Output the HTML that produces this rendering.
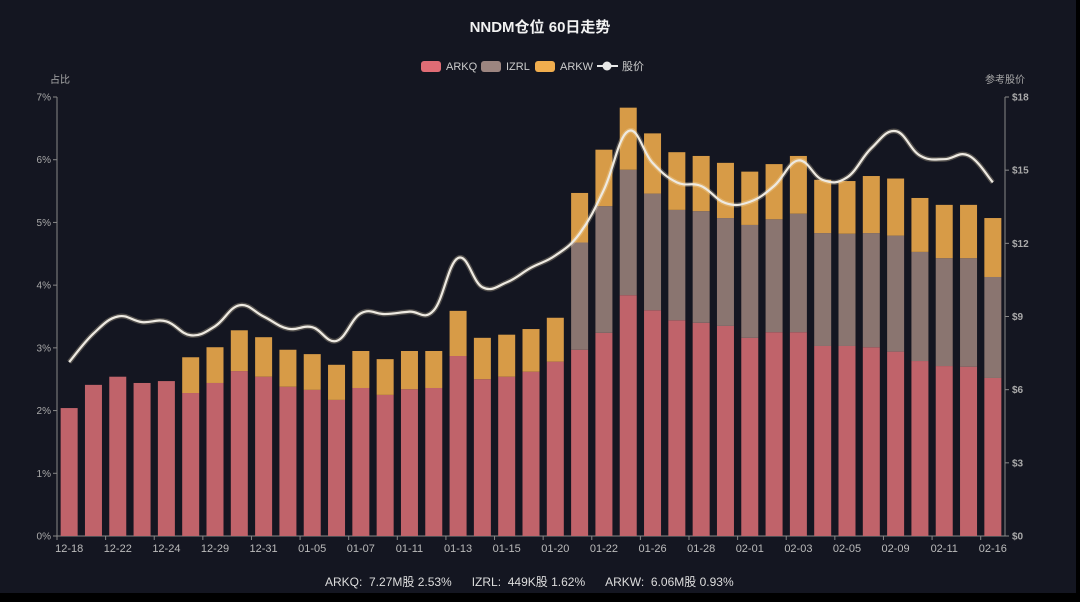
<!DOCTYPE html>
<html><head><meta charset="utf-8">
<style>
html,body{margin:0;padding:0;background:#000;}
#wrap{position:relative;width:1080px;height:602px;overflow:hidden;background:#000;}
svg{position:absolute;left:0;top:0;}
text{font-family:"Liberation Sans","Noto Sans CJK SC",sans-serif;}
</style></head>
<body>
<div id="wrap">
<svg id="chart" width="1080" height="602">
  <rect x="0" y="0" width="1076" height="593" fill="#141621"/>
  <text x="540" y="32" text-anchor="middle" fill="#f2f2f2" font-size="15" font-weight="bold">NNDM仓位 60日走势</text>
  <g>
    <g><rect x="421" y="61" width="20" height="11" rx="3" fill="#e06c75"/><text x="446" y="70" fill="#ccc" font-size="11">ARKQ</text></g>
    <g><rect x="481" y="61" width="20" height="11" rx="3" fill="#9c8580"/><text x="506" y="70" fill="#ccc" font-size="11">IZRL</text></g>
    <g><rect x="535" y="61" width="20" height="11" rx="3" fill="#f0ad4e"/><text x="560" y="70" fill="#ccc" font-size="11">ARKW</text></g>
    <g><line x1="597" y1="66" x2="618" y2="66" stroke="#e8e8e8" stroke-width="2"/><circle cx="607" cy="66" r="4.5" fill="#e8e8e8"/><text x="622" y="70" fill="#ccc" font-size="11">股价</text></g>
  </g>
  <text x="60" y="83" text-anchor="middle" fill="#aaa" font-size="10">占比</text>
  <text x="1005" y="83" text-anchor="middle" fill="#aaa" font-size="10">参考股价</text>
  <g id="plot"></g>
  <text x="325" y="586" fill="#dddddd" font-size="12" xml:space="preserve">ARKQ:  7.27M股 2.53%      IZRL:  449K股 1.62%      ARKW:  6.06M股 0.93%</text>
</svg>
</div>
<script>
const categories=["12-18","12-21","12-22","12-23","12-24","12-28","12-29","12-30","12-31","01-04","01-05","01-06","01-07","01-08","01-11","01-12","01-13","01-14","01-15","01-19","01-20","01-21","01-22","01-25","01-26","01-27","01-28","01-29","02-01","02-02","02-03","02-04","02-05","02-08","02-09","02-10","02-11","02-12","02-16"];
const arkq=[2.04,2.41,2.54,2.44,2.47,2.28,2.44,2.63,2.54,2.38,2.33,2.17,2.36,2.25,2.34,2.36,2.87,2.50,2.54,2.62,2.78,2.97,3.24,3.84,3.60,3.44,3.40,3.35,3.16,3.25,3.25,3.03,3.03,3.01,2.94,2.79,2.71,2.70,2.52];
const izrl=[0,0,0,0,0,0,0,0,0,0,0,0,0,0,0,0,0,0,0,0,0,1.71,2.02,2.00,1.86,1.76,1.78,1.72,1.80,1.80,1.89,1.80,1.79,1.82,1.85,1.74,1.72,1.73,1.61];
const arkw=[0,0,0,0,0,0.57,0.57,0.65,0.63,0.59,0.57,0.56,0.59,0.57,0.61,0.59,0.72,0.66,0.67,0.68,0.70,0.79,0.90,0.99,0.96,0.92,0.88,0.88,0.85,0.88,0.92,0.85,0.84,0.91,0.91,0.86,0.85,0.85,0.94];
const price=[7.13,8.3,9.0,8.77,8.8,8.23,8.6,9.46,9.0,8.5,8.56,8.0,9.13,9.1,9.2,9.25,11.4,10.2,10.4,11.0,11.5,12.4,14.2,16.6,15.3,14.5,14.35,13.65,13.7,14.35,15.4,14.6,14.7,15.9,16.6,15.6,15.45,15.6,14.5];
const leftTicks=["0%","1%","2%","3%","4%","5%","6%","7%"];
const rightTicks=["$0","$3","$6","$9","$12","$15","$18"];

const NS="http://www.w3.org/2000/svg";
const X0=57,X1=1005,Y0=536,Y1=97;
const band=(X1-X0)/categories.length;
const xC=i=>X0+band*(i+0.5);
const yL=v=>Y0-(Y0-Y1)*v/7;
const yR=v=>Y0-(Y0-Y1)*v/18;
const plot=document.getElementById('plot');
function mk(tag,attrs,parent){const e=document.createElementNS(NS,tag);for(const k in attrs)e.setAttribute(k,attrs[k]);(parent||plot).appendChild(e);return e;}

// axes
let ax=mk('line',{x1:X0,y1:Y1,x2:X0,y2:Y0,stroke:'#888','stroke-width':1});


let ax2=mk('line',{x1:X1,y1:Y1,x2:X1,y2:Y0,stroke:'#888','stroke-width':1});


let ax3=mk('line',{x1:X0,y1:Y0,x2:X1,y2:Y0,stroke:'#888','stroke-width':1});


leftTicks.forEach((t,i)=>{
  const y=yL(i);
  mk('line',{x1:X0-4,y1:y,x2:X0,y2:y,stroke:'#888'});
  const tx=mk('text',{x:X0-6,y:y+3.5,'text-anchor':'end',fill:'#aaa','font-size':10});
  tx.textContent=t;
  
  
});
rightTicks.forEach((t,i)=>{
  const y=yR(i*3);
  mk('line',{x1:X1,y1:y,x2:X1+4,y2:y,stroke:'#888'});
  const tx=mk('text',{x:X1+7,y:y+3.5,fill:'#aaa','font-size':10,'font-weight':'bold'});
  tx.textContent=t;
  
  
});
// bars
const bw=17;
categories.forEach((c,i)=>{
  const x=xC(i)-bw/2;
  let base=0;
  [[arkq,'#c0636a','arkq'],[izrl,'#8a7570','izrl'],[arkw,'#d79b47','arkw']].forEach(([arr,col,nm])=>{
    const v=arr[i]; if(v<=0) return;
    const r=mk('rect',{x:x,y:yL(base+v),width:bw,height:yL(base)-yL(base+v),fill:col});
    
    
    base+=v;
  });
  if(i%2===0){
    const tx=mk('text',{x:xC(i),y:Y0+16,'text-anchor':'middle',fill:'#bbb','font-size':11});
    tx.textContent=c;
    
    
    mk('line',{x1:X0+band*i,y1:Y0,x2:X0+band*i,y2:Y0+4,stroke:'#888'});
  }
});
// smooth line (catmull-rom)
const pts=price.map((p,i)=>[xC(i),yR(p)]);
let d='M'+pts[0][0]+','+pts[0][1];
for(let i=0;i<pts.length-1;i++){
  const p0=pts[i-1]||pts[i],p1=pts[i],p2=pts[i+1],p3=pts[i+2]||p2;
  const t=0.2;
  const c1=[p1[0]+(p2[0]-p0[0])*t,p1[1]+(p2[1]-p0[1])*t];
  const c2=[p2[0]-(p3[0]-p1[0])*t,p2[1]-(p3[1]-p1[1])*t];
  d+=' C'+c1+' '+c2+' '+p2;
}
const glow=mk('path',{d:d,fill:'none',stroke:'rgba(255,240,200,0.25)','stroke-width':5});


const ln=mk('path',{d:d,fill:'none',stroke:'#eeeae2','stroke-width':2.2});


</script>
</body></html>
